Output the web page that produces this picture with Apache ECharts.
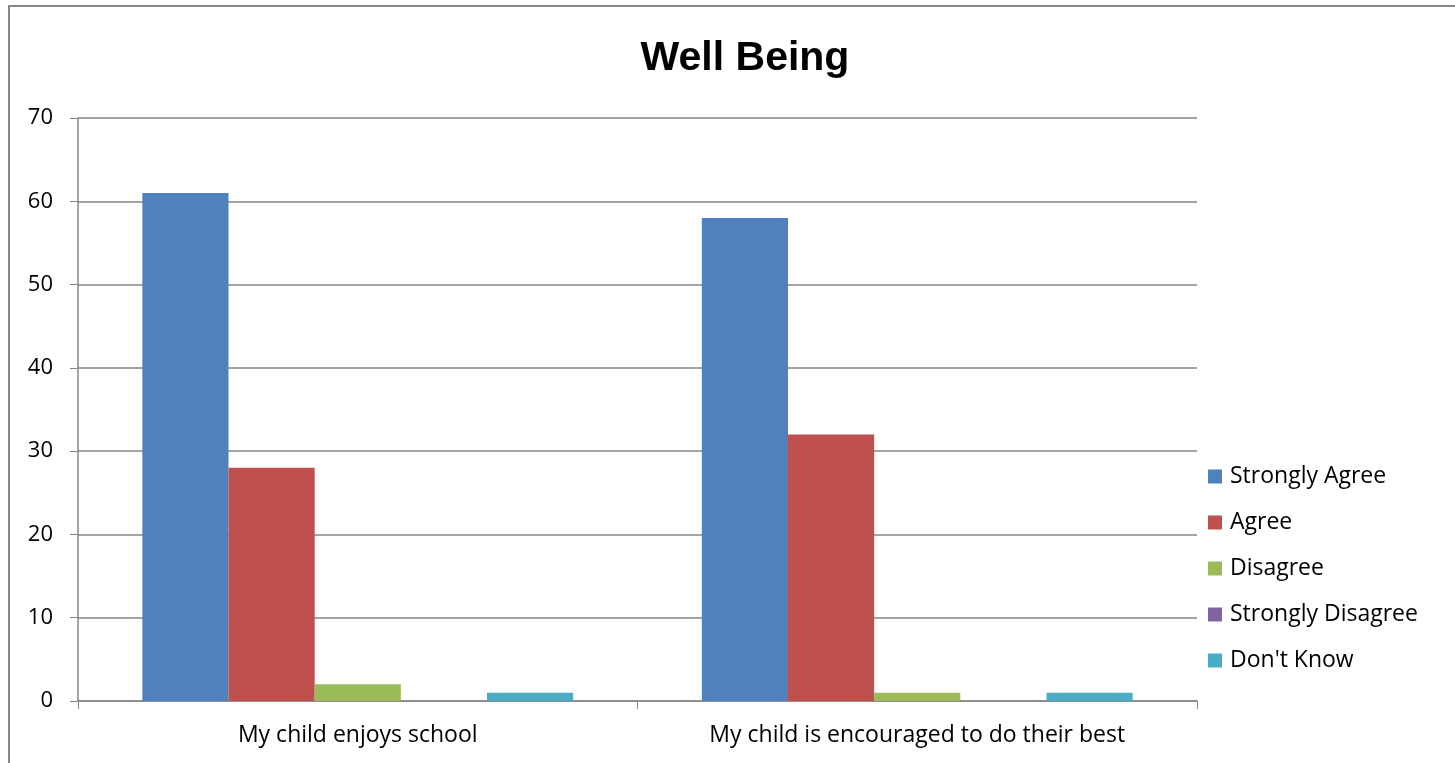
<!DOCTYPE html>
<html><head><meta charset="utf-8">
<script src="https://cdn.jsdelivr.net/npm/echarts@6/dist/echarts.min.js"></script>
<style>html,body{margin:0;padding:0;background:#fff}#c{width:1455px;height:763px}</style>
</head><body><div id="c"></div>
<script>
const categories = ['My child enjoys school', 'My child is encouraged to do their best'];
const seriesNames = ['Strongly Agree', 'Agree', 'Disagree', 'Strongly Disagree', "Don't Know"];
const stronglyAgree = [61, 58];
const agree = [28, 32];
const disagree = [2, 1];
const stronglyDisagree = [0, 0];
const dontKnow = [1, 1];
const colors = ['#4F81BD', '#C0504D', '#9BBB59', '#8064A2', '#4BACC6'];
const values = [stronglyAgree, agree, disagree, stronglyDisagree, dontKnow];
const font = 'Open Sans, Noto Sans, sans-serif';
const chart = echarts.init(document.getElementById('c'));
chart.setOption({
  animation: false,
  color: colors,
  title: { text: 'Well Being', left: 740, top: 33, textAlign: 'center',
    textStyle: { fontFamily: 'Liberation Sans, Arial, sans-serif', fontSize: 41, fontWeight: 'bold', color: '#000' } },
  graphic: [{ type: 'rect', shape: { x: 9, y: 6, width: 1460, height: 780 },
    style: { fill: 'none', stroke: '#868686', lineWidth: 2 }, silent: true }],
  legend: { orient: 'vertical', left: 1203, top: 460, itemGap: 23, itemWidth: 14, itemHeight: 14,
    icon: 'rect', textStyle: { fontFamily: font, fontSize: 23, color: '#000', padding: [0, 0, 0, 3] }, data: seriesNames },
  grid: { left: 78, right: 258, top: 118, bottom: 62, containLabel: false },
  xAxis: { type: 'category', data: categories,
    axisLine: { lineStyle: { color: '#868686', width: 1.5 } },
    axisTick: { show: true, alignWithLabel: false, length: 8, lineStyle: { color: '#868686' } },
    axisLabel: { fontFamily: font, fontSize: 23, color: '#000', margin: 23 } },
  yAxis: { type: 'value', min: 0, max: 70, interval: 10,
    axisLine: { show: true, lineStyle: { color: '#868686', width: 1.5 } },
    axisTick: { show: true, length: 8, lineStyle: { color: '#868686' } },
    splitLine: { lineStyle: { color: '#868686', width: 1.5 } },
    axisLabel: { fontFamily: font, fontSize: 22, color: '#000', margin: 25 } },
  series: seriesNames.map((n, i) => ({ name: n, type: 'bar', data: values[i],
    barGap: '0%', barCategoryGap: '23%', itemStyle: { color: colors[i] } }))
});
</script></body></html>
